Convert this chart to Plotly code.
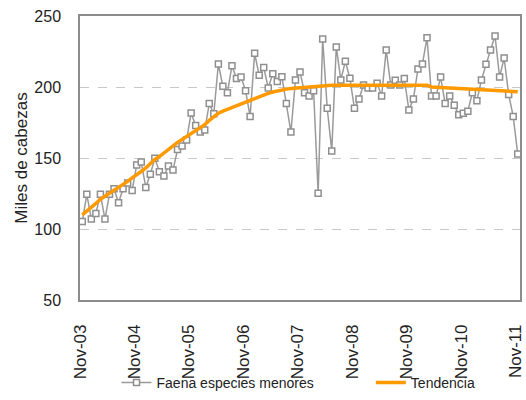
import plotly.graph_objects as go

# Monthly data Nov-03 .. Nov-11 (97 months)
faena = [105.2, 124.4, 107, 111, 124.4, 107, 124.4, 128.4, 118.5, 128.4, 132.4, 127.2,
         145.1, 147.2, 129.3, 138.5, 149.8, 140.4, 137.3, 144.4, 141.5, 155.9, 158.5, 162.7,
         181.7, 172.8, 168.3, 169.7, 188.3, 181.2, 216.2, 200.5, 196, 215, 205.9, 207,
         197.4, 179.3, 223.7, 208.2, 213.8, 199.3, 209.4, 203.8, 207.3, 188.3, 168.3, 205,
         210.6, 196, 193.7, 197.4, 125.1, 233.8, 185, 155, 228.2, 205, 218.1, 206.1,
         185, 191.5, 201.4, 199.3, 199.3, 202.6, 193.7, 226.1, 201.4, 204.7, 201.4, 205.9,
         183.8, 191.5, 212.7, 216.2, 234.7, 193.7, 193.7, 207, 188.3, 193.7, 187.1, 180.5,
         181.5, 182.9, 196, 190.4, 205, 216, 226.1, 235.9, 207, 220.4, 194.8, 179.3,
         152.8]

tendencia = [110, 112.5, 115, 118, 121, 123, 125, 127, 129, 131, 133.5, 136,
             138, 140.5, 143, 146, 149, 151, 153.5, 156.5, 159, 161, 163, 165,
             167.4, 169, 171, 173.5, 176.5, 179, 181.5, 183, 184.3, 185.7, 187, 188,
             189.5, 190.5, 192, 193.2, 194.4, 195.5, 196.5, 197.3, 197.9, 198.5, 199, 199.3,
             199.6, 199.8, 200, 200.1, 200.3, 200.7, 201, 201.2, 201.2, 201.2, 201.2, 201.2,
             201.2, 201.2, 201.2, 201.2, 201.2, 201.2, 201.2, 201.2, 201.2, 201.2, 201.2, 201.2,
             201.2, 201.2, 201.2, 201.2, 201.2, 200, 199.8, 199.7, 199.6, 199.5, 199.4, 199,
             198.6, 198.5, 198.5, 198.4, 198.4, 198.2, 197.9, 197.7, 197.6, 197.4, 197.2, 197,
             196.7]

years = ["03", "04", "05", "06", "07", "08", "09", "10", "11"]
tick_labels = ["Nov-" + y for y in years]

months = list(range(len(faena)))
tick_pos = [m - 0.5 for m in months[::12]]

fig = go.Figure()
fig.add_trace(go.Scatter(
    x=months, y=faena, name="Faena especies menores", mode="lines+markers",
    line=dict(color="#9a9a9a", width=1.5),
    marker=dict(symbol="square", size=6, color="white",
                line=dict(color="#8f8f8f", width=1.5)),
    legend="legend",
))
fig.add_trace(go.Scatter(
    x=months, y=tendencia, name="Tendencia", mode="lines",
    line=dict(color="#FF9900", width=3.5),
    legend="legend2",
))

font_family = "Liberation Sans, Arial, sans-serif"
leg_common = dict(orientation="h", xanchor="left", y=-0.292, yanchor="middle",
                  font=dict(size=14, color="#222222"), bgcolor="rgba(0,0,0,0)")
fig.update_layout(
    width=526, height=400,
    margin=dict(l=80, r=1, t=16, b=100),
    paper_bgcolor="white", plot_bgcolor="white",
    font=dict(family=font_family, color="#222222", size=16),
    showlegend=True,
    legend=dict(x=0.083, **leg_common),
    legend2=dict(x=0.661, **leg_common),
)
fig.update_xaxes(
    range=[-0.5, len(faena) - 0.5], tickmode="array", tickvals=tick_pos, ticktext=tick_labels,
    tickangle=-90, tickfont=dict(size=17), ticks="", ticklabelstandoff=16,
    ticklabeloverflow="allow",
    showline=True, mirror=True, linecolor="#8c8c8c", linewidth=1.5,
    showgrid=False, zeroline=False,
)
fig.update_yaxes(
    range=[50, 250], tickmode="array", tickvals=[50, 100, 150, 200, 250],
    tickfont=dict(size=16), ticks="", ticklabelstandoff=14,
    showline=True, mirror=True, linecolor="#8c8c8c", linewidth=1.5,
    showgrid=True, gridcolor="#c8c8c8", griddash="dash", gridwidth=1, zeroline=False,
    title=dict(text="Miles de cabezas", font=dict(size=17), standoff=2),
)
fig.write_html("out.html", config={"displayModeBar": False},
               post_script="document.body.style.margin='0';")
